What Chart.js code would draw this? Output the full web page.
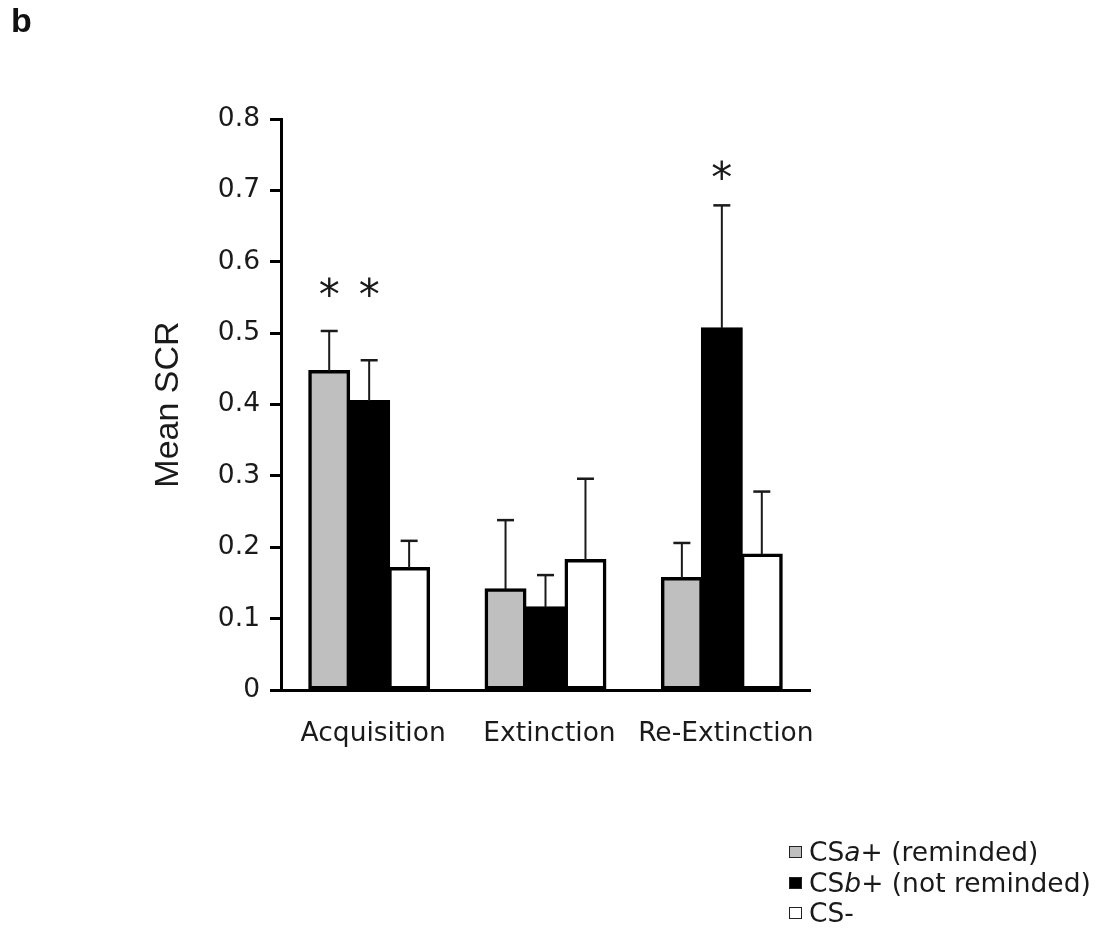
<!DOCTYPE html>
<html>
<head>
<meta charset="utf-8">
<title>Mean SCR</title>
<script src="https://cdn.jsdelivr.net/npm/chart.js@4/dist/chart.umd.min.js"></script>
<style>
    body { margin: 0; background: #fff; }
    #wrap { position: relative; width: 1116px; height: 934px; overflow: hidden; }
    #chart { position: absolute; left: 0; top: 0; }
    .panel-tag {
        position: absolute; left: 11px; top: 3px;
        font: bold 34px "Liberation Sans", Arial, sans-serif; line-height: 1; color: #111;
    }
    .legend {
        position: absolute; left: 789px; top: 837px;
        font-family: "DejaVu Sans", sans-serif; font-size: 26.5px; color: #1a1a1a;
    }
    .legend-row { display: flex; align-items: center; height: 30.5px; line-height: 30.5px; white-space: nowrap; }
    .legend-box { width: 13px; height: 12px; box-sizing: border-box; border: 1.5px solid #222; margin-right: 7px; }
</style>
</head>
<body>
<div id="wrap">
    <canvas id="chart" width="1116" height="934"></canvas>
    <div class="panel-tag">b</div>
    <div class="legend" id="legend"></div>
</div>
<script>
// ============================================
// Data
// ============================================
var categories = ['Acquisition', 'Extinction', 'Re-Extinction'];

var seriesTags  = ['a', 'b', ''];
var seriesNotes = ['+ (reminded)', '+ (not reminded)', '-'];
var seriesFill  = ['#bfbfbf', '#000000', '#ffffff'];

var csaPlus    = [0.447, 0.141, 0.157];
var csaErr     = [0.056, 0.097, 0.049];
var csbPlus    = [0.405, 0.116, 0.507];
var csbErr     = [0.057, 0.045, 0.172];
var csMinus    = [0.171, 0.182, 0.190];
var csMinusErr = [0.038, 0.114, 0.088];

var yTicks = { min: 0, max: 0.8, step: 0.1 };

// significance marks: which bar, and the level the star sits at
var starSeries   = [0, 1, 1];
var starCategory = [0, 0, 2];
var starLevel    = [0.565, 0.565, 0.729];

var seriesValues = [csaPlus, csbPlus, csMinus];
var seriesErrors = [csaErr, csbErr, csMinusErr];

var INK = '#1a1a1a';
var LABEL_FONT = { family: 'DejaVu Sans', size: 26.5 };

// ============================================
// Plugins
// ============================================
var errorBars = {
    id: 'errorBars',
    afterDatasetsDraw: function(chart) {
        var ctx = chart.ctx;
        var yScale = chart.scales.y;
        ctx.save();
        ctx.strokeStyle = INK;
        chart.data.datasets.forEach(function(ds, i) {
            var meta = chart.getDatasetMeta(i);
            meta.data.forEach(function(bar, j) {
                var top = yScale.getPixelForValue(ds.data[j] + ds.errors[j]);
                ctx.lineWidth = 2;
                ctx.beginPath();
                ctx.moveTo(bar.x, bar.y);
                ctx.lineTo(bar.x, top);
                ctx.stroke();
                ctx.lineWidth = 2.5;
                ctx.beginPath();
                ctx.moveTo(bar.x - 8.5, top);
                ctx.lineTo(bar.x + 8.5, top);
                ctx.stroke();
            });
        });
        ctx.restore();
    }
};

var starMarks = {
    id: 'starMarks',
    afterDatasetsDraw: function(chart) {
        var ctx = chart.ctx;
        var yScale = chart.scales.y;
        ctx.save();
        ctx.fillStyle = INK;
        ctx.font = '42px "DejaVu Sans"';
        ctx.textAlign = 'center';
        ctx.textBaseline = 'alphabetic';
        var m = ctx.measureText('*');
        var mid = (m.actualBoundingBoxAscent - m.actualBoundingBoxDescent) / 2;
        starLevel.forEach(function(level, k) {
            var bar = chart.getDatasetMeta(starSeries[k]).data[starCategory[k]];
            ctx.fillText('*', bar.x, yScale.getPixelForValue(level) + mid);
        });
        ctx.restore();
    }
};

// ============================================
// Chart
// ============================================
function buildDatasets() {
    return seriesValues.map(function(values, i) {
        return {
            label: 'CS' + seriesTags[i] + seriesNotes[i],
            data: values,
            errors: seriesErrors[i],
            backgroundColor: seriesFill[i],
            borderColor: '#000',
            borderWidth: 3.5,
            borderSkipped: false,
            inflateAmount: 1,
            barPercentage: 1,
            categoryPercentage: 0.68
        };
    });
}

function initChart() {
    new Chart(document.getElementById('chart').getContext('2d'), {
        type: 'bar',
        data: { labels: categories, datasets: buildDatasets() },
        options: {
            responsive: false,
            animation: false,
            layout: { padding: { left: 148, right: 306, top: 119, bottom: 0 } },
            plugins: {
                legend: { display: false },
                tooltip: { enabled: false }
            },
            scales: {
                x: {
                    grid: { display: false, drawTicks: false },
                    border: { display: true, color: '#000', width: 3 },
                    ticks: { color: INK, font: LABEL_FONT, padding: 28, labelOffset: 4, maxRotation: 0, autoSkip: false },
                    afterFit: function(scale) { scale.height = 244; }
                },
                y: {
                    min: yTicks.min,
                    max: yTicks.max,
                    grid: { drawOnChartArea: false, drawTicks: true, tickLength: 11, lineWidth: 3, tickWidth: 3, tickColor: '#000', color: '#000' },
                    border: { color: '#000', width: 3 },
                    ticks: {
                        stepSize: yTicks.step,
                        padding: 10,
                        color: INK,
                        font: LABEL_FONT,
                        callback: function(v) { return String(Math.round(v * 10) / 10); }
                    },
                    title: {
                        display: true,
                        text: 'Mean SCR',
                        color: INK,
                        font: { family: 'Liberation Sans', size: 34 },
                        padding: 0
                    },
                    afterFit: function(scale) { scale.width = 133; }
                }
            }
        },
        plugins: [errorBars, starMarks]
    });
}

// ============================================
// Legend
// ============================================
function initLegend() {
    var box = document.getElementById('legend');
    seriesTags.forEach(function(tag, i) {
        var row = document.createElement('div');
        row.className = 'legend-row';
        var swatch = document.createElement('span');
        swatch.className = 'legend-box';
        swatch.style.background = seriesFill[i];
        var text = document.createElement('span');
        text.appendChild(document.createTextNode('CS'));
        if (tag) {
            var it = document.createElement('i');
            it.textContent = tag;
            text.appendChild(it);
        }
        text.appendChild(document.createTextNode(seriesNotes[i]));
        row.appendChild(swatch);
        row.appendChild(text);
        box.appendChild(row);
    });
}

initChart();
initLegend();
</script>
</body>
</html>
